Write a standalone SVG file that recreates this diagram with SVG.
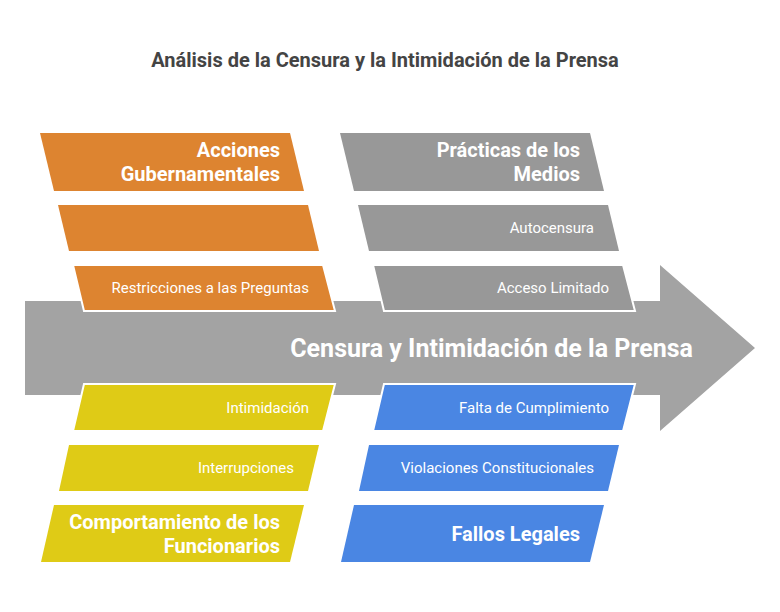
<svg xmlns="http://www.w3.org/2000/svg" width="780" height="612" viewBox="0 0 780 612">
<style>
text{font-family:Roboto,"Liberation Sans",sans-serif;fill:#fff;text-anchor:end}
.h{font-size:20px;font-weight:700}
.s{font-size:15px}
.title{font-size:20px;font-weight:700;fill:#444;text-anchor:middle}
.o{fill:#DD8430}.g{fill:#989898}.y{fill:#DFCB16}.b{fill:#4A86E3}
.w{stroke:#fff;stroke-width:2}
</style>
<rect width="780" height="612" fill="#fff"/>
<text class="title" x="385" y="67">Análisis de la Censura y la Intimidación de la Prensa</text>
<g id="connectors">
<polygon id="spine" points="25,301 660,301 660,265 755,348 660,431 660,395 25,395" fill="#A3A3A3"/>
<text x="693" y="357" style="font-size:25px;font-weight:700">Censura y Intimidación de la Prensa</text>
</g>
<g id="acciones">
<polygon class="o" points="40,133 290,133 304,191 54,191"/>
<text class="h" x="280" y="157">Acciones</text>
<text class="h" x="280" y="181">Gubernamentales</text>
</g>
<g id="acciones-empty">
<polygon class="o" points="58,205 308,205 319,251 69,251"/>
</g>
<g id="restricciones">
<polygon class="o w" points="73,265 323,265 335,311 84,311"/>
<text class="s" x="309" y="293">Restricciones a las Preguntas</text>
</g>
<g id="practicas">
<polygon class="g" points="340,133 590,133 604,191 354,191"/>
<text class="h" x="580" y="157">Prácticas de los</text>
<text class="h" x="580" y="181">Medios</text>
</g>
<g id="autocensura">
<polygon class="g" points="358,205 608,205 619,251 369,251"/>
<text class="s" x="594" y="233">Autocensura</text>
</g>
<g id="acceso">
<polygon class="g w" points="373,265 623,265 635,311 384,311"/>
<text class="s" x="609" y="293">Acceso Limitado</text>
</g>
<g id="intimidacion">
<polygon class="y w" points="84,384 335,384 323,431 73,431"/>
<text class="s" x="309" y="413">Intimidación</text>
</g>
<g id="interrupciones">
<polygon class="y" points="69,445 319,445 308,491 59,491"/>
<text class="s" x="294" y="473">Interrupciones</text>
</g>
<g id="comportamiento">
<polygon class="y" points="54,505 304,505 290,562 41,562"/>
<text class="h" x="280" y="529">Comportamiento de los</text>
<text class="h" x="280" y="553">Funcionarios</text>
</g>
<g id="falta">
<polygon class="b w" points="384,384 635,384 623,431 373,431"/>
<text class="s" x="609" y="413">Falta de Cumplimiento</text>
</g>
<g id="violaciones">
<polygon class="b" points="369,445 619,445 608,491 359,491"/>
<text class="s" x="594" y="473">Violaciones Constitucionales</text>
</g>
<g id="fallos">
<polygon class="b" points="354,505 604,505 590,562 341,562"/>
<text class="h" x="580" y="541">Fallos Legales</text>
</g>
</svg>
